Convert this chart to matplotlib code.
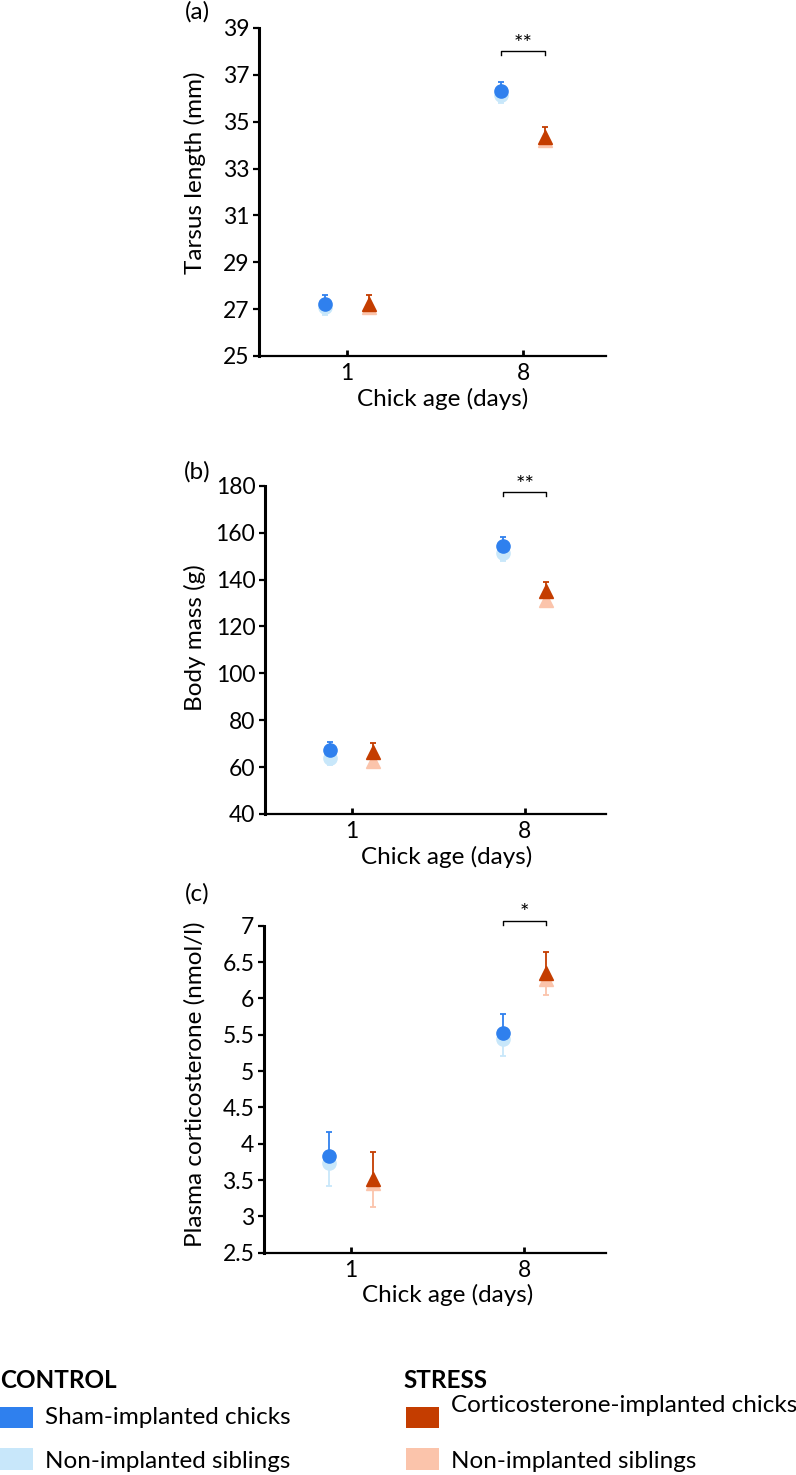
import numpy as np
import matplotlib
matplotlib.use("Agg")
import matplotlib.pyplot as plt
from matplotlib.patches import Rectangle

plt.rcParams['font.family'] = ['Lato', 'DejaVu Sans']

# colours for the four groups
SHAM = "#2f80ee"
SHAM_SIB = "#c8e7fa"
CORT = "#c43d00"
CORT_SIB = "#fbc4ab"

days = ["1", "8"]

# (a) tarsus length (mm): means and one-sided error bars
tarsus_sham = [27.22, 36.31]
tarsus_sham_se = [0.38, 0.39]
tarsus_sham_sib = [27.08, 36.12]
tarsus_sham_sib_se = [0.33, 0.32]
tarsus_cort = [27.20, 34.36]
tarsus_cort_se = [0.42, 0.40]
tarsus_cort_sib = [27.08, 34.20]
tarsus_cort_sib_se = [0.24, 0.30]

# (b) body mass (g)
mass_sham = [67.3, 154.4]
mass_sham_se = [3.5, 3.6]
mass_sham_sib = [63.7, 151.4]
mass_sham_sib_se = [2.8, 3.4]
mass_cort = [66.6, 135.2]
mass_cort_se = [3.5, 3.8]
mass_cort_sib = [62.8, 131.3]
mass_cort_sib_se = [2.8, 2.5]

# (c) plasma corticosterone (nmol/l)
cort_sham = [3.83, 5.52]
cort_sham_se = [0.33, 0.26]
cort_sham_sib = [3.74, 5.44]
cort_sham_sib_se = [0.32, 0.23]
cort_cort = [3.52, 6.35]
cort_cort_se = [0.36, 0.29]
cort_cort_sib = [3.46, 6.27]
cort_cort_sib_se = [0.33, 0.23]

stars = ["**", "**", "*"]

fig = plt.figure(figsize=(7.96, 14.75), dpi=100)

TICK_FS = 16.5
LAB_FS = 17.5


def draw_panel(ax, sham, sham_se, sham_sib, sham_sib_se,
               cort, cort_se, cort_sib, cort_sib_se,
               ylim, yticks, yticklabels, ylabel, star, br_y, br_drop, star_y,
               ylab_coords, xlab_coords):
    x = np.arange(1, len(days) + 1)
    dx = 0.125
    zero = np.zeros(len(days))
    # siblings first (behind), lower error bars
    ax.errorbar(x - dx, sham_sib, yerr=[sham_sib_se, zero], fmt="o", ms=9.5,
                color=SHAM_SIB, ecolor=SHAM_SIB, elinewidth=1.3, capsize=2.5, capthick=1.3, zorder=2)
    ax.errorbar(x + dx, cort_sib, yerr=[cort_sib_se, zero], fmt="^", ms=9.5,
                color=CORT_SIB, ecolor=CORT_SIB, elinewidth=1.3, capsize=2.5, capthick=1.3, zorder=2)
    # implanted chicks, upper error bars
    ax.errorbar(x - dx, sham, yerr=[zero, sham_se], fmt="o", ms=9.5,
                color=SHAM, ecolor=SHAM, elinewidth=1.3, capsize=2.5, capthick=1.3, zorder=3)
    ax.errorbar(x + dx, cort, yerr=[zero, cort_se], fmt="^", ms=9.5,
                color=CORT, ecolor=CORT, elinewidth=1.3, capsize=2.5, capthick=1.3, zorder=3)

    # significance bracket at day 8
    bx0, bx1 = x[1] - dx, x[1] + dx
    ax.plot([bx0, bx0, bx1, bx1], [br_y - br_drop, br_y, br_y, br_y - br_drop],
            color="black", lw=1.0, clip_on=False)
    ax.text(x[1], star_y, star, ha="center", va="center", fontsize=16,
            clip_on=False)

    ax.set_xlim(0.5, 2.47)
    ax.set_ylim(*ylim)
    ax.set_xticks(x)
    ax.set_xticklabels(days, fontsize=TICK_FS)
    ax.set_yticks(yticks)
    ax.set_yticklabels(yticklabels, fontsize=TICK_FS)
    ax.spines["top"].set_visible(False)
    ax.spines["right"].set_visible(False)
    ax.spines["left"].set_linewidth(2.2)
    ax.spines["bottom"].set_linewidth(1.6)
    ax.tick_params(axis="y", direction="out", length=4, width=1.6, pad=3)
    ax.tick_params(axis="x", direction="in", length=4, width=2, pad=5)
    ax.set_ylabel(ylabel, fontsize=LAB_FS, va="center")
    ax.yaxis.set_label_coords(*ylab_coords)
    ax.set_xlabel("Chick age (days)", fontsize=LAB_FS, va="center")
    ax.xaxis.set_label_coords(*xlab_coords)


ax_a = fig.add_axes([259 / 796, 1 - 356 / 1475, 347 / 796, 328 / 1475])
draw_panel(ax_a, tarsus_sham, tarsus_sham_se, tarsus_sham_sib, tarsus_sham_sib_se,
           tarsus_cort, tarsus_cort_se, tarsus_cort_sib, tarsus_cort_sib_se,
           (25, 39), [25, 27, 29, 31, 33, 35, 37, 39],
           ["25", "27", "29", "31", "33", "35", "37", "39"],
           "Tarsus length (mm)", stars[0], 38.02, 0.17, 38.32,
           (-0.184, 0.56), (0.53, -0.131))

ax_b = fig.add_axes([265 / 796, 1 - 814 / 1475, 341 / 796, 328.3 / 1475])
draw_panel(ax_b, mass_sham, mass_sham_se, mass_sham_sib, mass_sham_sib_se,
           mass_cort, mass_cort_se, mass_cort_sib, mass_cort_sib_se,
           (40, 180), [40, 60, 80, 100, 120, 140, 160, 180],
           ["40", "60", "80", "100", "120", "140", "160", "180"],
           "Body mass (g)", stars[1], 177.2, 1.7, 180.5,
           (-0.205, 0.538), (0.534, -0.131))

ax_c = fig.add_axes([264 / 796, 1 - 1252.7 / 1475, 342 / 796, 327 / 1475])
draw_panel(ax_c, cort_sham, cort_sham_se, cort_sham_sib, cort_sham_sib_se,
           cort_cort, cort_cort_se, cort_cort_sib, cort_cort_sib_se,
           (2.5, 7), [2.5, 3, 3.5, 4, 4.5, 5, 5.5, 6, 6.5, 7],
           ["2.5", "3", "3.5", "4", "4.5", "5", "5.5", "6", "6.5", "7"],
           "Plasma corticosterone (nmol/l)", stars[2], 7.07, 0.06, 7.17,
           (-0.202, 0.516), (0.538, -0.129))

# panel letters
for lab, ypx in zip(["(a)", "(b)", "(c)"], [12, 472, 894]):
    fig.text(197 / 796, 1 - ypx / 1475, lab, ha="center", va="center", fontsize=LAB_FS)

# legend built by hand
W, H = 796, 1475


def square(x0, y0, x1, y1, color):
    fig.add_artist(Rectangle((x0 / W, 1 - y1 / H), (x1 - x0) / W, (y1 - y0) / H,
                             transform=fig.transFigure, color=color, lw=0))


fig.text(0, 1 - 1380 / H, "CONTROL", fontsize=LAB_FS, fontweight="bold", va="center", ha="left")
fig.text(403 / W, 1 - 1380 / H, "STRESS", fontsize=LAB_FS, fontweight="bold", va="center", ha="left")
square(0, 1407, 33, 1428, SHAM)
square(0, 1448, 33, 1470, SHAM_SIB)
square(406, 1407, 439, 1428, CORT)
square(406, 1448, 439, 1470, CORT_SIB)
fig.text(45 / W, 1 - 1418 / H, "Sham-implanted chicks", fontsize=LAB_FS, va="center", ha="left")
fig.text(45 / W, 1 - 1462 / H, "Non-implanted siblings", fontsize=LAB_FS, va="center", ha="left")
fig.text(451 / W, 1 - 1405 / H, "Corticosterone-implanted chicks", fontsize=LAB_FS, va="center", ha="left")
fig.text(451 / W, 1 - 1462 / H, "Non-implanted siblings", fontsize=LAB_FS, va="center", ha="left")

fig.savefig("out.png", dpi=100)
